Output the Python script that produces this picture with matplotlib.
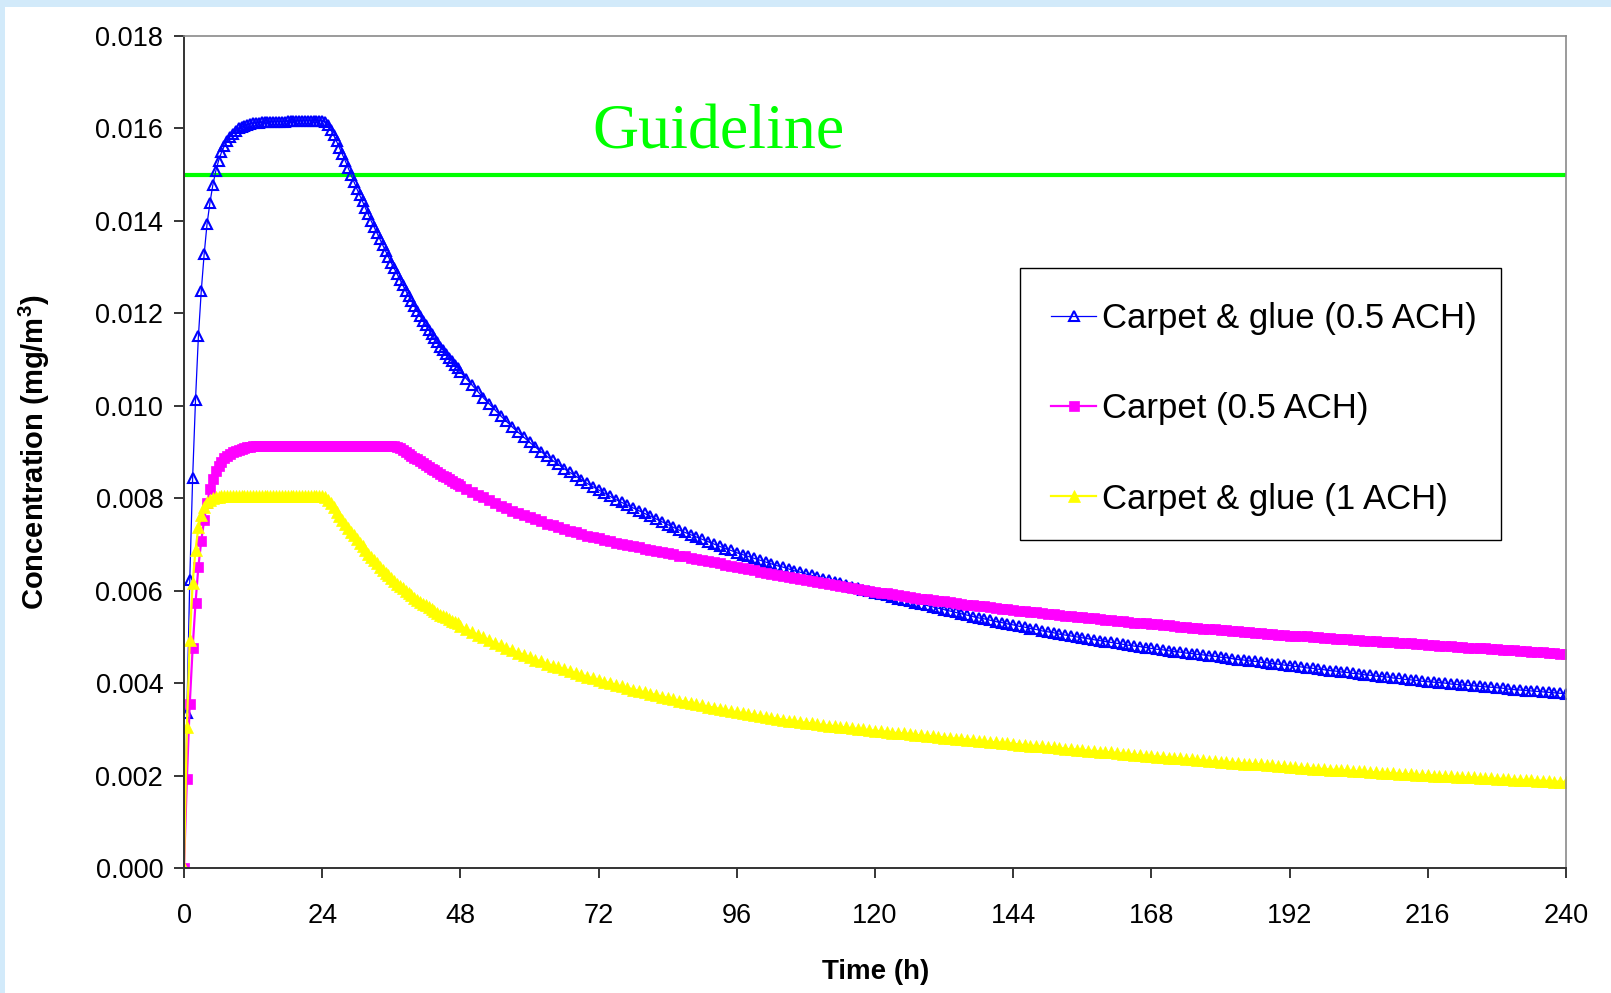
"""Indoor concentration after installing carpet, with and without glue."""

import matplotlib

matplotlib.use("Agg")
matplotlib.rcParams.update({
    "font.family": ["Liberation Sans", "DejaVu Sans"],
    "mathtext.fontset": "custom",
    "mathtext.rm": "Liberation Sans",
    "mathtext.bf": "Liberation Sans:bold",
})

import matplotlib.pyplot as plt
import numpy as np
from matplotlib.patches import Rectangle

# sample times (h): half-hourly up to 47.5 h, hourly from 48 h to 240 h
hours_fine = np.arange(0, 48, 0.5)
hours_coarse = np.arange(48, 241, 1)

# concentrations in units of 1e-5 mg/m3
glue_05_fine = [
    0, 335, 622, 844, 1013, 1150, 1249, 1328, 1393, 1439, 1477, 1507, 1530,
    1548, 1562, 1573, 1582, 1589, 1595, 1600, 1603, 1606, 1608, 1610, 1611,
    1612, 1612, 1613, 1613, 1614, 1614, 1614, 1615, 1615, 1615, 1615, 1616,
    1616, 1616, 1616, 1616, 1616, 1617, 1617, 1617, 1617, 1617, 1617, 1617,
    1614, 1607, 1597, 1585, 1572, 1558, 1544, 1530, 1515, 1500,
    1485, 1470, 1456, 1442, 1428, 1414, 1400, 1387, 1374, 1361,
    1348, 1335, 1322, 1309, 1297, 1285, 1273, 1261, 1249, 1238,
    1227, 1216, 1205, 1194, 1184, 1174, 1164, 1155, 1146, 1137,
    1128, 1120, 1112, 1104, 1096, 1089, 1082,
]
glue_05_coarse = [
    1073, 1059, 1045, 1031, 1017, 1004, 991, 978, 966, 954,
    943, 932, 921, 911, 901, 891, 882, 873, 864, 856,
    848, 840, 832, 825, 818, 811, 804, 797, 791, 785,
    779, 773, 767, 761, 755, 749, 743, 737, 731, 726,
    721, 716, 711, 706, 701, 696, 691, 687, 682, 678,
    674, 670, 666,
    662, 658, 654, 651, 647, 643, 640, 636, 633, 629,
    626, 622, 619, 616, 612, 609, 606, 602, 599, 596,
    593, 590, 586, 583, 580, 577, 574, 571, 568, 565,
    562, 559, 556, 553, 550, 547, 544, 541, 539, 536,
    533, 531, 528, 526, 523, 521, 518, 516, 513, 511,
    509, 506, 504, 502, 500, 498, 496, 494, 492, 490,
    488, 486, 484, 482, 480, 479, 477, 475, 473, 472,
    470, 468, 467, 465, 464, 462, 461, 459, 458, 456,
    455, 453, 451, 450, 448, 447, 445, 444, 442, 441,
    439, 438, 436, 435, 433, 432, 430, 429, 427, 426,
    424, 423, 421, 420, 418, 417, 415, 414, 413, 411,
    410, 408, 407, 406, 404, 403, 402, 401, 400, 398,
    397, 396, 395, 394, 393, 392, 391, 390, 389, 387,
    386, 385, 384, 383, 382, 381, 380, 379, 378, 377,
]

carpet_05_fine = [
    0, 193, 355, 476, 574, 652, 708, 753, 790, 820, 842, 858, 870,
    879, 886, 892, 896, 899, 902, 905, 907, 909, 910, 911, 912,
    913, 913, 913, 913, 913, 913, 913, 913,
    913, 913, 913, 913, 913, 913, 913, 913,
    914, 914, 914, 914, 914, 914, 914, 914, 914, 914, 914, 914, 914, 914, 914, 914,
    914, 914, 914, 914, 914, 914, 914, 914, 914, 914, 914, 914, 914, 914, 914, 914,
    913, 911, 908, 904, 900, 896, 892, 888, 884, 880,
    876, 872, 868, 864, 860, 856, 852, 848, 845, 841,
    838, 834, 831,
]
carpet_05_coarse = [
    827, 820, 814, 808, 802, 796, 790, 784, 779, 773,
    768, 763, 759, 754, 750, 745, 741, 737, 733, 729,
    726, 723, 719, 716, 713, 710, 707, 704, 702, 699,
    696, 694, 691, 689, 686, 684, 681, 679, 676, 674,
    671, 669, 666, 664, 661, 659, 656, 654, 651, 649,
    646, 644, 641,
    639, 637, 634, 632, 630, 628, 625, 623, 621, 619,
    617, 615, 612, 610, 608, 606, 604, 602, 600, 598,
    596, 594, 593, 591, 589, 587, 585, 583, 582, 580,
    578, 577, 575, 573, 572, 570, 569, 567, 566, 564,
    563, 561, 560, 558, 557, 555, 554, 553, 551, 550,
    549, 547, 546, 545, 544, 542, 541, 540, 539, 537,
    536, 535, 534, 533, 531, 530, 529, 528, 527, 526,
    525, 524, 522, 521, 520, 519, 518, 517, 516, 515,
    514, 513, 512, 511, 510, 509, 508, 507, 506, 505,
    504, 503, 502, 502, 501, 500, 499, 498, 497, 496,
    496, 495, 494, 493, 492, 491, 491, 490, 489, 488,
    487, 486, 486, 485, 484, 483, 482, 481, 481, 480,
    479, 478, 477, 477, 476, 475, 474, 473, 472, 472,
    471, 470, 469, 468, 468, 467, 466, 465, 464, 463,
]

glue_1_fine = [
    0, 306, 494, 616, 688, 737, 764, 782, 792, 797, 800, 802, 803,
    804, 804, 805, 805, 805, 805, 805, 805, 805, 805, 805, 805,
    805, 805, 805, 805, 805, 805, 805, 805, 805, 805, 805, 805,
    805, 805, 805, 805, 805, 805, 805, 805, 805, 805, 805, 805,
    803, 797, 789, 780, 771, 762, 753, 744, 736, 728,
    720, 712, 704, 696, 688, 680, 673, 666, 659, 652,
    645, 639, 633, 627, 621, 615, 610, 605, 600, 595,
    590, 585, 580, 576, 572, 568, 564, 560, 556, 552,
    548, 545, 542, 538, 535, 532, 529,
]
glue_1_coarse = [
    524, 517, 511, 505, 499, 493, 487, 482, 476, 471,
    466, 461, 456, 451, 447, 442, 438, 434, 430, 426,
    422, 418, 414, 410, 407, 403, 400, 396, 393, 390,
    386, 383, 380, 377, 374, 371, 368, 365, 362, 360,
    357, 354, 352, 349, 347, 344, 342, 339, 337, 335,
    333, 331, 329,
    327, 325, 323, 321, 319, 318, 316, 314, 313, 311,
    309, 308, 307, 305, 304, 302, 301, 300, 298, 297,
    296, 295, 293, 292, 291, 290, 288, 287, 286, 285,
    284, 282, 281, 280, 279, 278, 277, 275, 274, 273,
    272, 271, 270, 269, 267, 266, 265, 264, 263, 262,
    261, 260, 258, 257, 256, 255, 254, 253, 252, 251,
    250, 249, 247, 246, 245, 244, 243, 242, 241, 240,
    239, 238, 237, 236, 235, 234, 233, 232, 231, 230,
    229, 228, 227, 226, 225, 225, 224, 223, 222, 221,
    220, 219, 218, 217, 216, 215, 215, 214, 213, 212,
    212, 211, 210, 209, 209, 208, 207, 206, 206, 205,
    204, 203, 203, 202, 201, 201, 200, 199, 199, 198,
    197, 197, 196, 196, 195, 194, 194, 193, 193, 192,
    191, 191, 190, 190, 189, 189, 188, 187, 187, 186,
]

GUIDELINE = 0.015
SCALE = 1e-5

hours = np.concatenate([hours_fine, hours_coarse])
series = [
    ("Carpet & glue (0.5 ACH)", glue_05_fine + glue_05_coarse),
    ("Carpet (0.5 ACH)", carpet_05_fine + carpet_05_coarse),
    ("Carpet & glue (1 ACH)", glue_1_fine + glue_1_coarse),
]
for name, values in series:
    print(name, len(values), len(hours))

W, H = 1611, 993
fig = plt.figure(figsize=(W / 100, H / 100), dpi=100, facecolor="white")
# light blue frame strips along the top and left edge
fig.patches.append(Rectangle((0, 1 - 7 / H), 1, 7 / H, transform=fig.transFigure,
                             facecolor="#D2EAFA", edgecolor="none", zorder=-5))
fig.patches.append(Rectangle((0, 0), 5 / W, 1, transform=fig.transFigure,
                             facecolor="#D2EAFA", edgecolor="none", zorder=-5))

ax = fig.add_axes([184 / W, 1 - 868 / H, (1566 - 184) / W, (868 - 36) / H])

styles = [
    dict(color="#0000FF", lw=0.9, marker="^", ms=6.9, mfc="none",
         mec="#0000FF", mew=1.5),
    dict(color="#FF00FF", lw=1.6, marker="s", ms=7.9, mfc="#FF00FF",
         mec="#FF00FF", mew=0.5),
    dict(color="#FFFF00", lw=1.6, marker="^", ms=9.1, mfc="#FFFF00",
         mec="#FFFF00", mew=0.5),
]
for (name, values), style in zip(series, styles):
    ax.plot(hours, np.array(values) * SCALE, label=name, **style)

ax.axhline(GUIDELINE, color="#00FF00", lw=3.0, zorder=1)
ax.text(71.0, 0.01556, "Guideline", fontsize=46, color="#00FF00",
        family="Liberation Serif", va="baseline", ha="left")

ax.set_xlim(0, 240)
ax.set_ylim(0, 0.018)
ax.set_xticks(np.arange(0, 241, 24))
ax.set_yticks(np.arange(0, 0.0181, 0.002))
ax.yaxis.set_major_formatter(matplotlib.ticker.FormatStrFormatter("%.3f"))
ax.tick_params(axis="both", direction="out", length=7, width=1.1,
               labelsize=19.5, colors="black")
ax.tick_params(axis="x", pad=18)
ax.tick_params(axis="y", pad=8)
for side in ("left", "bottom"):
    ax.spines[side].set_color("#333333")
    ax.spines[side].set_linewidth(1.4)
for side in ("top", "right"):
    ax.spines[side].set_color("#8A8A8A")
    ax.spines[side].set_linewidth(1.2)

fig.text(34 / W, 1 - 452 / H, r"Concentration (mg/m$\mathbf{^3}$)",
         rotation=90, fontsize=21, fontweight="bold", ha="center", va="center")
fig.text(876 / W, 1 - 972 / H, "Time (h)", fontsize=20, fontweight="bold",
         ha="center", va="center")

# legend box drawn separately so its padding can match the original
ax.add_patch(Rectangle((1020 / W, 1 - 540 / H), (1501 - 1020) / W, (540 - 268) / H,
                       transform=fig.transFigure, facecolor="white",
                       edgecolor="black", linewidth=1.0, zorder=4, clip_on=False))
legend = ax.legend(loc="upper left", bbox_to_anchor=(1051 / W, 1 - 302 / H),
                   bbox_transform=fig.transFigure, fontsize=25, frameon=False,
                   handlelength=1.3, handletextpad=0.16, labelspacing=1.65,
                   borderpad=0, borderaxespad=0, numpoints=1)
legend.set_zorder(5)

fig.savefig("out.png", dpi=100, facecolor="white")
